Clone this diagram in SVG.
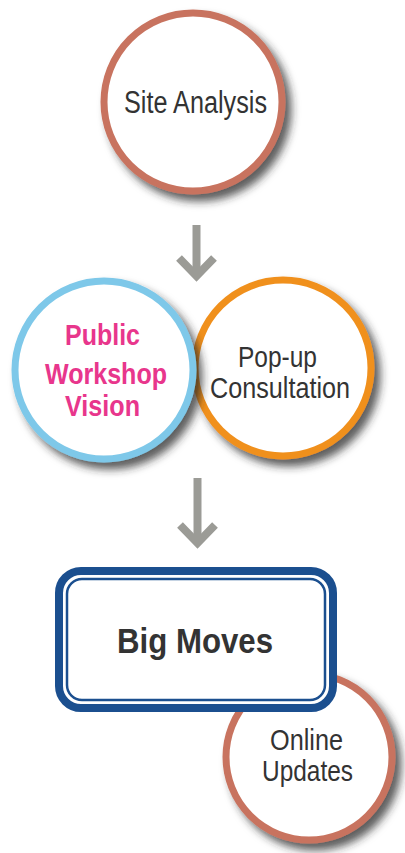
<svg xmlns="http://www.w3.org/2000/svg" width="405" height="853" viewBox="0 0 405 853">
  <defs>
    <filter id="shadow" x="-20%" y="-20%" width="150%" height="150%">
      <feDropShadow dx="6" dy="7" stdDeviation="4.5" flood-color="#2a2a2a" flood-opacity="0.75"/>
    </filter>
  </defs>
  <style>
    .ring { fill: #ffffff; stroke-width: 7; filter: url(#shadow); }
    .label { font-family: "Liberation Sans", Arial, sans-serif; fill: #333333; text-anchor: middle; }
    .arrow { fill: none; stroke: #9b9b96; stroke-width: 8; stroke-linejoin: miter; }
  </style>

  <rect width="405" height="853" fill="#ffffff"/>

  <!-- connectors -->
  <g id="connectors">
    <path class="arrow" d="M196.5 225 V274"/>
    <path class="arrow" d="M179 258 L196.5 276 L214 258"/>
    <path class="arrow" d="M197.5 478 V542"/>
    <path class="arrow" d="M180 525 L197.5 543 L215 525"/>
  </g>

  <g id="site-analysis">
    <circle class="ring" cx="193" cy="102" r="89" stroke="#c8735f"/>
    <text class="label" x="195.5" y="113" font-size="31" textLength="143" lengthAdjust="spacingAndGlyphs">Site Analysis</text>
  </g>

  <g id="pop-up-consultation">
    <circle class="ring" cx="283" cy="368" r="88" stroke="#f0901e"/>
    <text class="label" x="277.5" y="367" font-size="29" textLength="79" lengthAdjust="spacingAndGlyphs">Pop-up</text>
    <text class="label" x="280" y="398" font-size="29" textLength="140" lengthAdjust="spacingAndGlyphs">Consultation</text>
  </g>

  <g id="public-workshop-vision">
    <circle class="ring" cx="104" cy="370" r="89" stroke="#7ec8e9"/>
    <g class="label" font-weight="bold" style="fill:#e8368c">
      <text x="102.5" y="345" font-size="30" textLength="75" lengthAdjust="spacingAndGlyphs">Public</text>
      <text x="106" y="384" font-size="30" textLength="122" lengthAdjust="spacingAndGlyphs">Workshop</text>
      <text x="102.5" y="416" font-size="30" textLength="75" lengthAdjust="spacingAndGlyphs">Vision</text>
    </g>
  </g>

  <g id="online-updates">
    <circle class="ring" cx="309" cy="757" r="83" stroke="#c8735f"/>
    <text class="label" x="306.5" y="750" font-size="29" textLength="73" lengthAdjust="spacingAndGlyphs">Online</text>
    <text class="label" x="307.5" y="781" font-size="29" textLength="91" lengthAdjust="spacingAndGlyphs">Updates</text>
  </g>

  <g id="big-moves">
    <rect x="59" y="571" width="274" height="137" rx="22" fill="#ffffff" stroke="#1b4f8f" stroke-width="8"/>
    <rect x="67" y="579" width="258" height="121" rx="15" fill="none" stroke="#1b4f8f" stroke-width="2.5"/>
    <text class="label" x="195" y="653" font-size="35" font-weight="bold" textLength="156" lengthAdjust="spacingAndGlyphs">Big Moves</text>
  </g>
</svg>
